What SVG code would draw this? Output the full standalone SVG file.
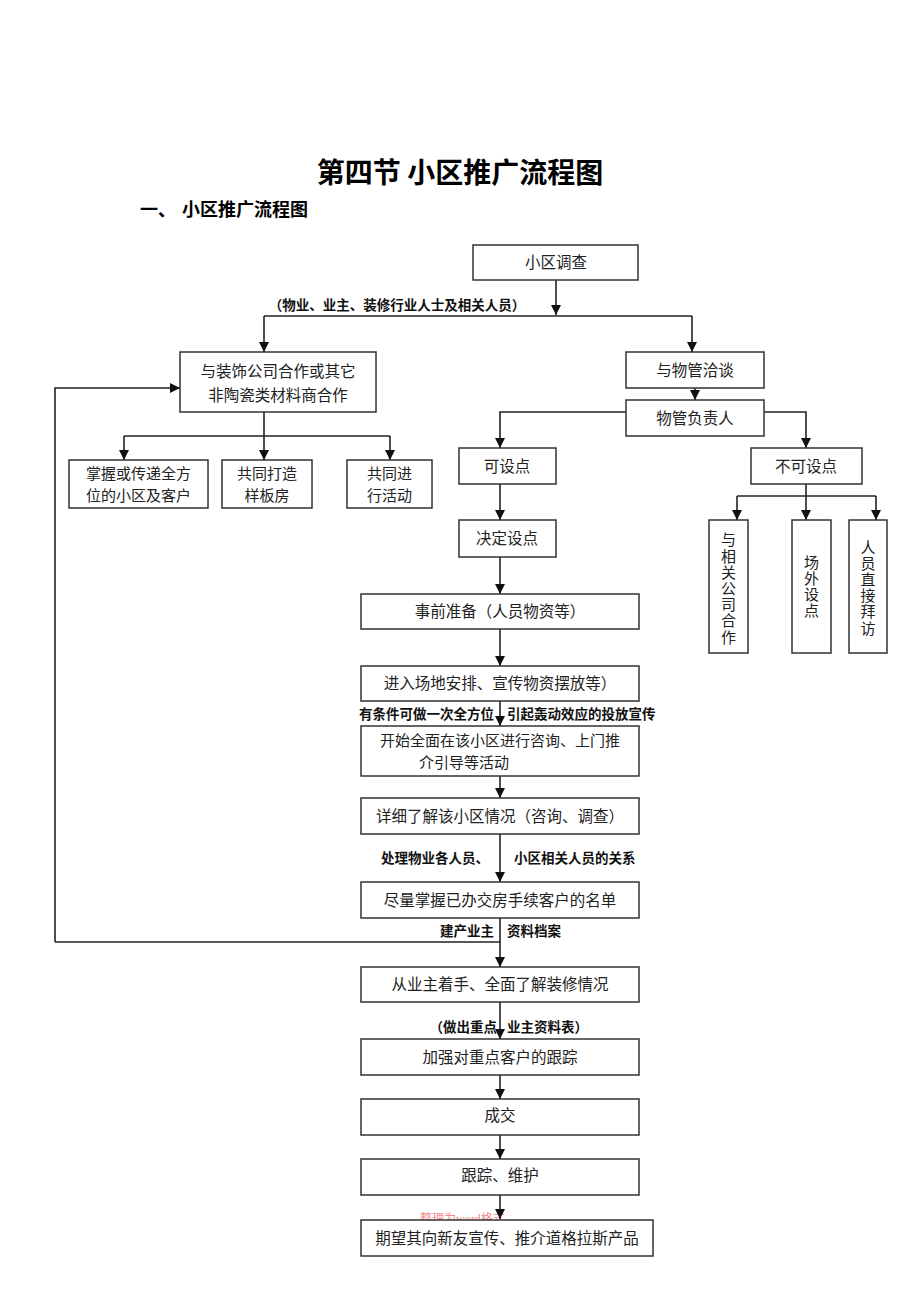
<svg xmlns="http://www.w3.org/2000/svg" width="920" height="1302" viewBox="0 0 920 1302">
<style>
.box{fill:#fff;stroke:#333;stroke-width:1.5}
.t{font-family:"Noto Sans CJK SC",sans-serif;font-size:15.5px;fill:#222;text-anchor:middle}
.t2{font-family:"Noto Sans CJK SC",sans-serif;font-size:15px;fill:#222;text-anchor:middle}
.v{font-family:"Noto Sans CJK SC",sans-serif;font-size:15px;fill:#222;text-anchor:middle;writing-mode:vertical-rl;letter-spacing:1.2px}
.lbl{font-family:"Noto Sans CJK SC",sans-serif;font-size:13.5px;font-weight:bold;fill:#111}
.ln{stroke:#222;stroke-width:1.6;fill:none}
.ar{stroke:#222;stroke-width:1.6;fill:none;marker-end:url(#ah)}
</style>
<defs>
<marker id="ah" markerUnits="userSpaceOnUse" markerWidth="10" markerHeight="10" refX="10" refY="5" orient="auto">
<path d="M0,0 L10,5 L0,10 z" fill="#111"/>
</marker>
</defs>
<rect width="920" height="1302" fill="#fff"/>
<text x="460" y="183" text-anchor="middle" style="font-family:'Noto Sans CJK SC',sans-serif;font-size:28px;font-weight:bold;fill:#000">第四节 小区推广流程图</text>
<text x="140" y="216" style="font-family:'Noto Sans CJK SC',sans-serif;font-size:18px;font-weight:bold;fill:#000">一、</text>
<text x="182" y="216" style="font-family:'Noto Sans CJK SC',sans-serif;font-size:18px;font-weight:bold;fill:#000">小区推广流程图</text>
<text x="420" y="1223" style="font-family:'Liberation Serif','Noto Sans CJK SC',serif;font-size:12px;fill:#f08a8a">整理为word格式</text>
<g id="connectors">
<path class="ar" d="M556,280 V315"/>
<path class="ln" d="M264,316 H692"/>
<path class="ar" d="M264,316 V352"/>
<path class="ar" d="M692,316 V352"/>
<path class="ln" d="M264,412 V436"/>
<path class="ln" d="M124,436 H390"/>
<path class="ar" d="M124,436 V460"/>
<path class="ar" d="M264,436 V460"/>
<path class="ar" d="M390,436 V460"/>
<path class="ar" d="M55,942 V388 H180"/>
<path class="ar" d="M695,388 V400"/>
<path class="ar" d="M626,412 H500 V448"/>
<path class="ar" d="M764,412 H806 V448"/>
<path class="ar" d="M500,484 V520"/>
<path class="ln" d="M806,484 V496"/>
<path class="ln" d="M737,496 H876"/>
<path class="ar" d="M737,496 V520"/>
<path class="ar" d="M806,496 V520"/>
<path class="ar" d="M876,496 V520"/>
<path class="ar" d="M500,557 V594"/>
<path class="ar" d="M500,629 V666"/>
<path class="ar" d="M500,701 V726"/>
<path class="ar" d="M500,776 V798"/>
<path class="ar" d="M500,834 V882"/>
<path class="ar" d="M500,918 V967"/>
<path class="ln" d="M55,942 H500"/>
<path class="ar" d="M500,1002 V1039"/>
<path class="ar" d="M500,1075 V1099"/>
<path class="ar" d="M500,1135 V1159"/>
<path class="ar" d="M500,1195 V1219"/>
<text class="lbl" x="397" y="310" text-anchor="middle">（物业、业主、装修行业人士及相关人员）</text>
<text class="lbl" x="494" y="719" text-anchor="end">有条件可做一次全方位</text>
<text class="lbl" x="507" y="719">引起轰动效应的投放宣传</text>
<text class="lbl" x="489" y="863" text-anchor="end">处理物业各人员、</text>
<text class="lbl" x="514" y="863">小区相关人员的关系</text>
<text class="lbl" x="494" y="936" text-anchor="end">建产业主</text>
<text class="lbl" x="507" y="936">资料档案</text>
<text class="lbl" x="497" y="1032" text-anchor="end">（做出重点</text>
<text class="lbl" x="507" y="1032">业主资料表）</text>
</g>
<g id="n1"><rect class="box" x="473" y="245" width="165" height="35"/><text class="t" x="556" y="268">小区调查</text></g>
<g id="n2"><rect class="box" x="180" y="352" width="196" height="60"/><text class="t" x="278" y="377">与装饰公司合作或其它<tspan x="278" y="401">非陶瓷类材料商合作</tspan></text></g>
<g id="n3"><rect class="box" x="69" y="460" width="139" height="48"/><text class="t2" x="138.5" y="479">掌握或传递全方<tspan x="138.5" y="501">位的小区及客户</tspan></text></g>
<g id="n4"><rect class="box" x="222" y="460" width="90" height="48"/><text class="t2" x="267" y="479">共同打造<tspan x="267" y="501">样板房</tspan></text></g>
<g id="n5"><rect class="box" x="347" y="460" width="85" height="48"/><text class="t2" x="389.5" y="479">共同进<tspan x="389.5" y="501">行活动</tspan></text></g>
<g id="n6"><rect class="box" x="626" y="352" width="138" height="36"/><text class="t" x="695" y="376">与物管洽谈</text></g>
<g id="n7"><rect class="box" x="626" y="400" width="138" height="36"/><text class="t" x="695" y="424">物管负责人</text></g>
<g id="n8"><rect class="box" x="459" y="448" width="97" height="36"/><text class="t" x="507" y="472">可设点</text></g>
<g id="n9"><rect class="box" x="751" y="448" width="111" height="36"/><text class="t" x="806" y="472">不可设点</text></g>
<g id="n10"><rect class="box" x="459" y="520" width="97" height="37"/><text class="t" x="507" y="544">决定设点</text></g>
<g id="n11"><rect class="box" x="709" y="520" width="39" height="133"/><text class="v" x="728.5" y="589">与相关公司合作</text></g>
<g id="n12"><rect class="box" x="792" y="520" width="39" height="133"/><text class="v" x="811.5" y="587">场外设点</text></g>
<g id="n13"><rect class="box" x="849" y="520" width="38" height="133"/><text class="v" x="868" y="588">人员直接拜访</text></g>
<g id="n14"><rect class="box" x="361" y="594" width="278" height="35"/><text class="t" x="500" y="617">事前准备（人员物资等）</text></g>
<g id="n15"><rect class="box" x="361" y="666" width="278" height="35"/><text class="t" x="500" y="689">进入场地安排、宣传物资摆放等）</text></g>
<g id="n16"><rect class="box" x="361" y="726" width="278" height="50"/><text class="t2" x="500" y="746">开始全面在该小区进行咨询、上门推<tspan x="464" y="768">介引导等活动</tspan></text></g>
<g id="n17"><rect class="box" x="361" y="798" width="278" height="36"/><text class="t" x="500" y="822">详细了解该小区情况（咨询、调查）</text></g>
<g id="n18"><rect class="box" x="361" y="882" width="278" height="36"/><text class="t" x="500" y="906">尽量掌握已办交房手续客户的名单</text></g>
<g id="n19"><rect class="box" x="361" y="967" width="278" height="35"/><text class="t" x="500" y="990">从业主着手、全面了解装修情况</text></g>
<g id="n20"><rect class="box" x="361" y="1039" width="278" height="36"/><text class="t" x="500" y="1063">加强对重点客户的跟踪</text></g>
<g id="n21"><rect class="box" x="361" y="1099" width="278" height="36"/><text class="t" x="500" y="1121">成交</text></g>
<g id="n22"><rect class="box" x="361" y="1159" width="278" height="36"/><text class="t" x="500" y="1181">跟踪、维护</text></g>
<g id="n23"><rect class="box" x="361" y="1220" width="292" height="36"/><text class="t" x="507" y="1244">期望其向新友宣传、推介道格拉斯产品</text></g>
</svg>
